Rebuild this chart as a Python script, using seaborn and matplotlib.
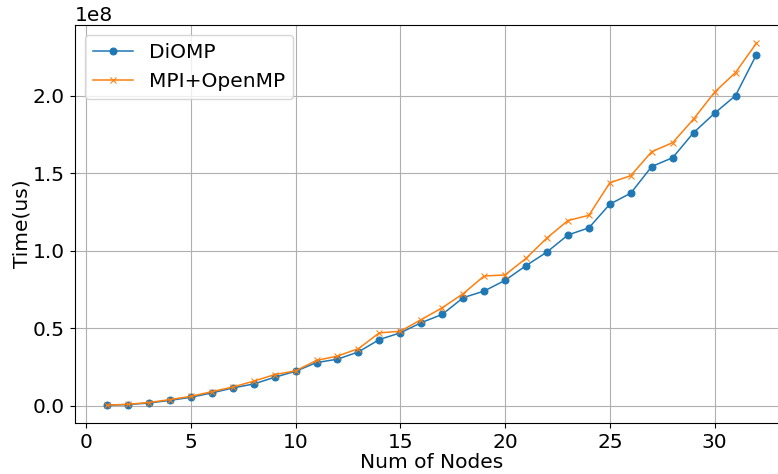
import numpy as np
import pandas as pd
import matplotlib
matplotlib.use("Agg")
import matplotlib.pyplot as plt
import seaborn as sns

# ================================
# DATA (time in units of 1e8 us)
# ================================
nodes = list(range(1, 33))

diomp = [0.003, 0.007, 0.017, 0.034, 0.054, 0.082, 0.114, 0.140, 0.183, 0.222,
         0.278, 0.300, 0.347, 0.427, 0.470, 0.536, 0.589, 0.697, 0.740, 0.809,
         0.904, 0.992, 1.102, 1.148, 1.301, 1.372, 1.544, 1.601, 1.763, 1.888,
         2.002, 2.267]

mpi_openmp = [0.003, 0.009, 0.020, 0.039, 0.060, 0.090, 0.120, 0.158, 0.200, 0.225,
              0.292, 0.320, 0.368, 0.470, 0.480, 0.556, 0.632, 0.723, 0.837, 0.844,
              0.951, 1.083, 1.195, 1.229, 1.439, 1.485, 1.640, 1.698, 1.851, 2.024,
              2.151, 2.341]

df = pd.DataFrame({
    "Nodes": nodes,
    "DiOMP": np.array(diomp) * 1e8,
    "MPI+OpenMP": np.array(mpi_openmp) * 1e8,
})

plt.rcParams["font.size"] = 14.5

fig, ax = plt.subplots(figsize=(7.78, 4.74), dpi=100)

sns.lineplot(data=df, x="Nodes", y="DiOMP", marker="o", markersize=5,
             linewidth=1.1, markeredgecolor="#1f77b4", color="#1f77b4",
             label="DiOMP", ax=ax)
sns.lineplot(data=df, x="Nodes", y="MPI+OpenMP", marker="x", markersize=5,
             linewidth=1.1, markeredgecolor="#ff7f0e", color="#ff7f0e",
             label="MPI+OpenMP", ax=ax)

ax.set_xlabel("Num of Nodes", labelpad=1)
ax.set_ylabel("Time(us)", labelpad=1)
ax.grid(True)
ax.legend(loc="upper left")

# the original figure is cropped on the right edge
fig.subplots_adjust(left=0.0958, right=1.0141, top=0.9473, bottom=0.107)
plt.savefig("out.png", dpi=100)
